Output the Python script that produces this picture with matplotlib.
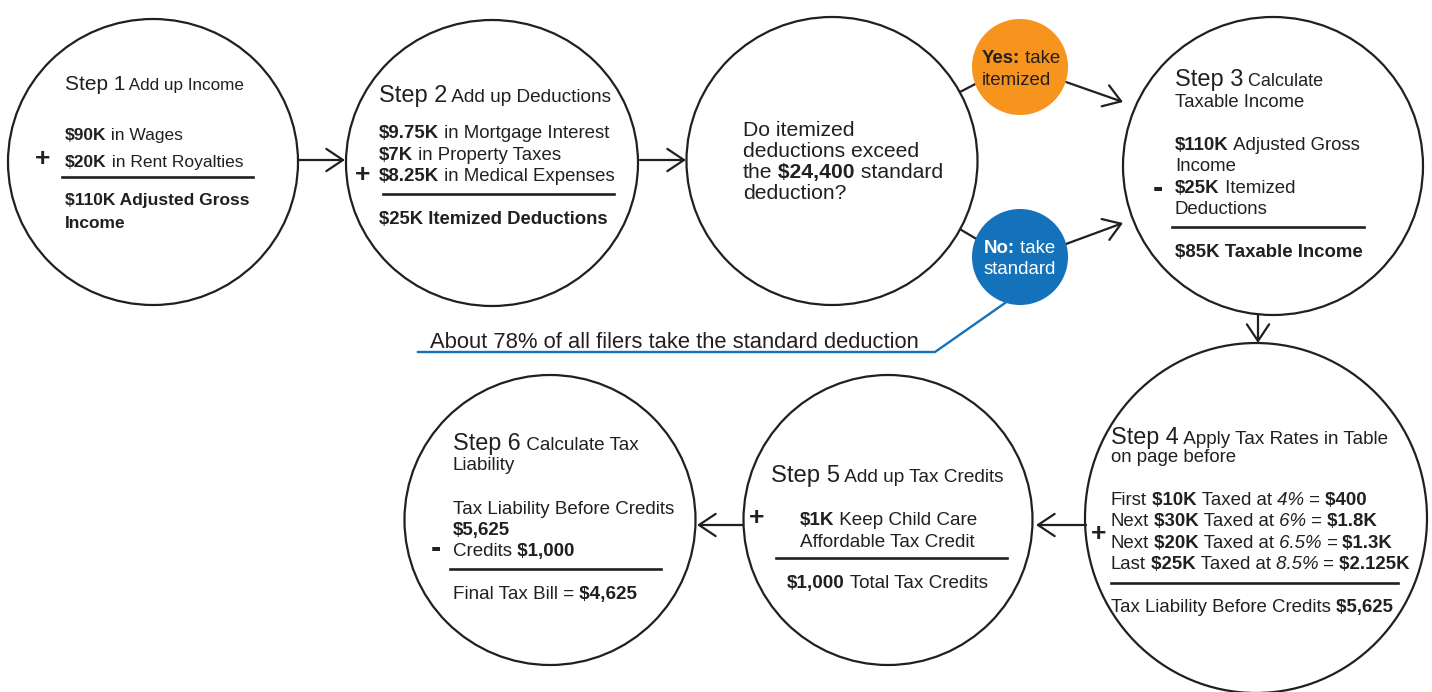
import matplotlib
matplotlib.use("Agg")
import matplotlib.pyplot as plt
from matplotlib.patches import Ellipse

# ---- text content -------------------------------------------------------
# *...* = bold, ~...~ = italic
step1_title = ("Step 1", " Add up Income")
step1_lines = ["*$90K* in Wages", "*$20K* in Rent Royalties"]
step1_total = ["*$110K Adjusted Gross*", "*Income*"]

step2_title = ("Step 2", " Add up Deductions")
step2_lines = ["*$9.75K* in Mortgage Interest", "*$7K* in Property Taxes",
               "*$8.25K* in Medical Expenses"]
step2_total = ["*$25K Itemized Deductions*"]

question = ["Do itemized", "deductions exceed", "the *$24,400* standard", "deduction?"]
yes_label = ["*Yes:* take", "itemized"]
no_label = ["*No:* take", "standard"]
note = "About 78% of all filers take the standard deduction"

step3_title = ("Step 3", " Calculate")
step3_title2 = "Taxable Income"
step3_lines = ["*$110K* Adjusted Gross", "Income", "*$25K* Itemized", "Deductions"]
step3_total = ["*$85K Taxable Income*"]

step4_title = ("Step 4", " Apply Tax Rates in Table")
step4_title2 = "on page before"
step4_lines = ["First *$10K* Taxed at ~4%~ = *$400*",
               "Next *$30K* Taxed at ~6%~ = *$1.8K*",
               "Next *$20K* Taxed at ~6.5%~ = *$1.3K*",
               "Last *$25K* Taxed at ~8.5%~ = *$2.125K*"]
step4_total = ["Tax Liability Before Credits *$5,625*"]

step5_title = ("Step 5", " Add up Tax Credits")
step5_lines = ["*$1K* Keep Child Care", "Affordable Tax Credit"]
step5_total = ["*$1,000* Total Tax Credits"]

step6_title = ("Step 6", " Calculate Tax")
step6_title2 = "Liability"
step6_lines = ["Tax Liability Before Credits", "*$5,625*", "Credits *$1,000*"]
step6_total = ["Final Tax Bill = *$4,625*"]

INK = "#231f20"
ORANGE = "#f7941e"
BLUE = "#1472bb"
SANS = ["Liberation Sans", "DejaVu Sans"]

fig = plt.figure(figsize=(14.32, 6.92), dpi=100)
ax = fig.add_axes([0, 0, 1, 1])
ax.set_xlim(0, 1432)
ax.set_ylim(692, 0)
ax.axis("off")
renderer = fig.canvas.get_renderer()


def parse(s):
    segs, buf, bold, ital = [], "", False, False
    for ch in s:
        if ch in "*~":
            if buf:
                segs.append([buf, bold, ital])
            buf = ""
            if ch == "*":
                bold = not bold
            else:
                ital = not ital
        else:
            buf += ch
    if buf:
        segs.append([buf, bold, ital])
    # move trailing spaces to the next segment so widths stay right
    for i in range(len(segs) - 1):
        t = segs[i][0]
        n = len(t) - len(t.rstrip(" "))
        if n:
            segs[i][0] = t.rstrip(" ")
            segs[i + 1][0] = " " * n + segs[i + 1][0]
    return segs


def rich(x, y, s, size, color=INK):
    cx = x
    for txt, bold, ital in parse(s):
        t = ax.text(cx, y, txt, fontsize=size, color=color, family=SANS,
                    fontweight="bold" if bold else "normal",
                    fontstyle="italic" if ital else "normal",
                    ha="left", va="baseline", parse_math=False)
        cx += t.get_window_extent(renderer).width
    return cx


def title(x, y, pair, s1, s2):
    t = ax.text(x, y, pair[0], fontsize=s1, color=INK, family=SANS,
                ha="left", va="baseline")
    w = t.get_window_extent(renderer).width
    ax.text(x + w, y, pair[1], fontsize=s2, color=INK, family=SANS,
            ha="left", va="baseline")


def plain(x, y, s, size):
    ax.text(x, y, s, fontsize=size, color=INK, family=SANS,
            ha="left", va="baseline")


def circle(cx, cy, w, h, fc="white", ec=INK, lw=1.6, z=2):
    ax.add_patch(Ellipse((cx, cy), w, h, fc=fc, ec=ec, lw=lw, zorder=z))


def rule(x0, x1, y):
    ax.plot([x0, x1], [y, y], color=INK, lw=1.9, zorder=4)


def arrow(p0, p1):
    ax.annotate("", xy=p1, xytext=p0,
                arrowprops=dict(arrowstyle="->,head_length=0.6,head_width=0.4",
                                color=INK, lw=1.6, mutation_scale=20,
                                shrinkA=0, shrinkB=0), zorder=3)


def sign(x, y, ch, size):
    ax.text(x, y, ch, fontsize=size, fontweight="bold", color=INK, family=SANS,
            ha="center", va="center", zorder=5)


# ---- circles ------------------------------------------------------------
circle(153, 162, 290, 286)
circle(492, 163, 292, 286)
circle(832, 161, 291, 288)
circle(1273, 166, 300, 298)
circle(1256, 518, 342, 350)
circle(888, 520, 289, 290)
circle(550, 520, 291, 290)

# connectors
arrow((298, 160), (345, 160))
arrow((640, 160), (686, 160))
ax.plot([958, 985], [93, 79], color=INK, lw=1.6, zorder=1)
ax.plot([958, 985], [228, 244], color=INK, lw=1.6, zorder=1)
arrow((1066, 82), (1123, 102))
arrow((1066, 244), (1123, 223))
arrow((1258, 315), (1258, 343))
arrow((1086, 525), (1036, 525))
arrow((743, 525), (697, 525))

# yes / no bubbles
circle(1020, 67, 96, 96, fc=ORANGE, ec="none", z=3)
circle(1020, 257, 96, 96, fc=BLUE, ec="none", z=3)
for i, s in enumerate(yes_label):
    rich(982, 63 + 22 * i, s, 13.4)
for i, s in enumerate(no_label):
    rich(984, 253 + 21 * i, s, 13.4, color="white")

# note line
ax.plot([1005, 935, 418], [303, 352, 352], color=BLUE, lw=1.7, zorder=1)
ax.text(430, 348, note, fontsize=15.8, color=INK, family=SANS,
        ha="left", va="baseline")

# ---- step 1 -------------------------------------------------------------
title(65, 90, step1_title, 15, 12.3)
rich(65, 140, step1_lines[0], 12.5)
rich(65, 167, step1_lines[1], 12.5)
sign(43, 159, "+", 19)
rule(62, 253, 177)
for i, s in enumerate(step1_total):
    rich(65, 205 + 23 * i, s, 12.5)

# ---- step 2 -------------------------------------------------------------
title(379, 102, step2_title, 17, 13.7)
for i, s in enumerate(step2_lines):
    rich(379, 138 + 21.5 * i, s, 13.4)
sign(363, 175, "+", 19)
rule(383, 614, 194)
rich(379, 224, step2_total[0], 13.3)

# ---- question -----------------------------------------------------------
for i, s in enumerate(question):
    rich(743, 136 + 21 * i, s, 15.2)

# ---- step 3 -------------------------------------------------------------
title(1175, 86, step3_title, 17, 13)
plain(1175, 107, step3_title2, 13.3)
for i, s in enumerate(step3_lines):
    rich(1175, 150 + 21.3 * i, s, 13.4)
sign(1158, 189, "-", 22)
rule(1172, 1364, 227)
rich(1175, 257, step3_total[0], 13.4)

# ---- step 4 -------------------------------------------------------------
title(1111, 444, step4_title, 16.8, 13.6)
plain(1111, 462, step4_title2, 13.4)
for i, s in enumerate(step4_lines):
    rich(1111, 505 + 21.3 * i, s, 13.4)
sign(1099, 534, "+", 19)
rule(1111, 1398, 583)
rich(1111, 612, step4_total[0], 13.4)

# ---- step 5 -------------------------------------------------------------
title(771, 482, step5_title, 17.2, 13.7)
sign(757, 518, "+", 19)
for i, s in enumerate(step5_lines):
    rich(800, 525 + 22 * i, s, 13.6)
rule(776, 1007, 558)
rich(787, 588, step5_total[0], 13.6)

# ---- step 6 -------------------------------------------------------------
title(453, 450, step6_title, 16.8, 13.6)
plain(453, 470, step6_title2, 13.6)
for i, s in enumerate(step6_lines):
    rich(453, 514 + 21 * i, s, 13.5)
sign(436, 549, "-", 22)
rule(450, 661, 569)
rich(453, 599, step6_total[0], 13.6)

fig.savefig("out.png", dpi=100)
